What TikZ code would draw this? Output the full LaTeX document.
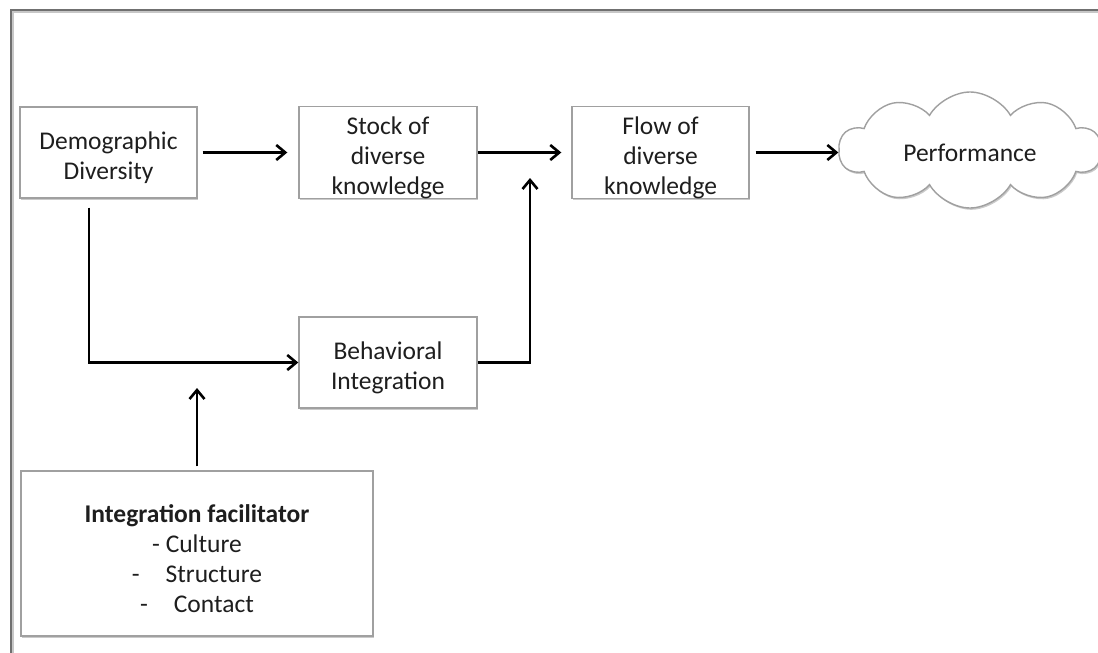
\documentclass[tikz,border=0pt]{standalone}
\usepackage{fontspec}
\setmainfont{Carlito}
\usetikzlibrary{arrows.meta,shapes.symbols,shadows}
\definecolor{boxline}{HTML}{A0A0A0}
\definecolor{txt}{HTML}{1E1E1E}
\definecolor{framec}{HTML}{707070}
\newcommand\topstrut{\rule{0pt}{28pt}}
\begin{document}
\begin{tikzpicture}[x=1pt,y=-1pt,
  every node/.style={font=\fontsize{25.5}{30}\selectfont, text=txt},
  box/.style={draw=boxline, line width=1.4pt, fill=white, inner sep=0pt, align=center,
    drop shadow={shadow xshift=1.2pt, shadow yshift=-1.8pt, opacity=0.35, fill=black!60}},
  arr/.style={line width=2.8pt, -{Straight Barb[length=9pt,width=15pt,line width=2.6pt]}},
  frameline/.style={draw=framec, line width=1.8pt}]
\useasboundingbox (0,0) rectangle (1098,653);
\draw[draw=black!22, line width=2pt] (12.8,660) -- (12.8,11.8) -- (1110,11.8);
\draw[frameline] (11,660) -- (11,10) -- (1110,10);

\node[box, minimum width=177pt, minimum height=91pt] (dd) at (108.5,152.5) {\topstrut Demographic\\Diversity};
\node[box, minimum width=178pt, minimum height=91pt] (stock) at (388,152.5) {\topstrut Stock of\\diverse\\knowledge};
\node[box, minimum width=177pt, minimum height=91pt] (flow) at (660.5,152.5) {\topstrut Flow of\\diverse\\knowledge};
\node[box, minimum width=178pt, minimum height=91pt] (beh) at (388,362.5) {\topstrut Behavioral\\Integration};
\node[box, minimum width=352pt, minimum height=165pt] (fac) at (197,553.5)
  {\topstrut\textbf{Integration facilitator}\\- Culture\\-\hspace{26pt}Structure\\-\hspace{26pt}Contact};
\node[cloud, cloud puffs=10, cloud puff arc=120, aspect=2.3, draw=boxline, line width=1.4pt, fill=white,
  minimum width=262pt, minimum height=116pt, inner sep=0pt,
  drop shadow={shadow xshift=1.2pt, shadow yshift=-1.8pt, opacity=0.35, fill=black!60}] (perf) at (970,150) {\rule{0pt}{24pt}Performance};

\coordinate (j) at (530,178);
\coordinate (m) at (197,388);

\draw[arr] ([xshift=5pt]dd.east) -- ([xshift=-11pt]stock.west);
\draw[arr] (stock.east) -- ([xshift=-10pt]flow.west);
\draw[arr] ([xshift=6pt]flow.east) -- (flow.east -| perf.west);
\draw[arr] ([xshift=-19.5pt,yshift=-9pt]dd.south) |- (beh.west);
\draw[arr] (beh.east) -| (j);
\draw[arr] ([yshift=4pt]fac.north) -- (m);
\end{tikzpicture}
\end{document}
